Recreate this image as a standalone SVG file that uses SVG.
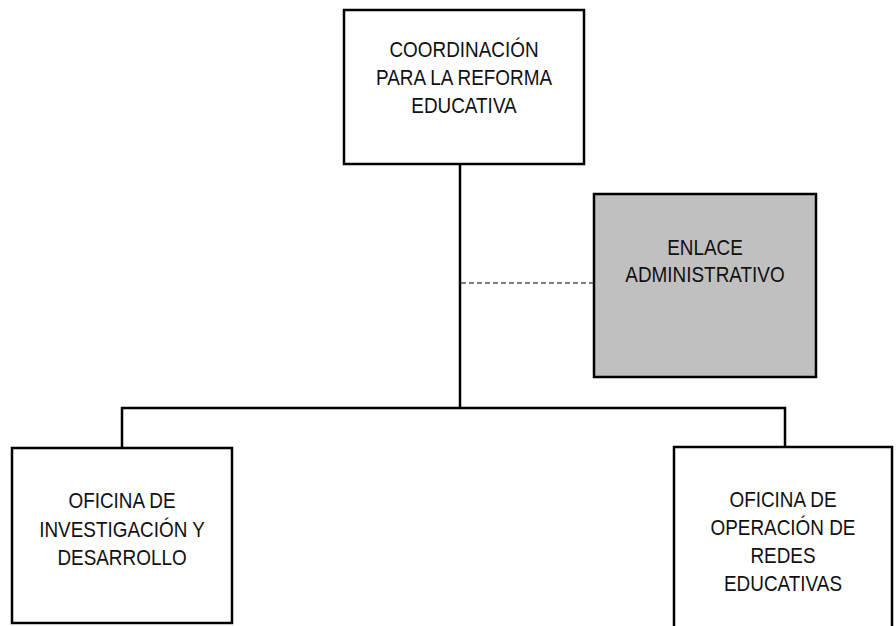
<svg xmlns="http://www.w3.org/2000/svg" width="896" height="626" viewBox="0 0 896 626">
<style>
.box{fill:#ffffff;stroke:#000000;stroke-width:2.5}
.gray{fill:#c0c0c0;stroke:#000000;stroke-width:2.5}
.ln{fill:none;stroke:#000000;stroke-width:2.5}
.dash{fill:none;stroke:#000000;stroke-width:1.2;stroke-dasharray:5 3}
text{font-family:"Liberation Sans",Arial,sans-serif;font-size:22px;fill:#111111;text-anchor:middle}
</style>
<rect width="896" height="626" fill="#ffffff"/>
<g id="connectors">
<line class="ln" x1="460" y1="164" x2="460" y2="408"/>
<polyline class="ln" points="122,448 122,408 785,408 785,447"/>
<line class="dash" x1="461" y1="283" x2="594" y2="283"/>
</g>
<g id="coordinacion">
<rect class="box" x="344" y="10" width="240" height="154"/>
<text transform="translate(464 57) scale(0.86 1)">COORDINACIÓN</text>
<text transform="translate(464 85) scale(0.86 1)">PARA LA REFORMA</text>
<text transform="translate(464 113) scale(0.86 1)">EDUCATIVA</text>
</g>
<g id="enlace">
<rect class="gray" x="594" y="194" width="222" height="183"/>
<text transform="translate(705 255) scale(0.86 1)">ENLACE</text>
<text transform="translate(705 282) scale(0.86 1)">ADMINISTRATIVO</text>
</g>
<g id="investigacion">
<rect class="box" x="12" y="448" width="220" height="175"/>
<text transform="translate(122 508) scale(0.86 1)">OFICINA DE</text>
<text transform="translate(122 537) scale(0.86 1)">INVESTIGACIÓN Y</text>
<text transform="translate(122 565) scale(0.86 1)">DESARROLLO</text>
</g>
<g id="operacion">
<rect class="box" x="674" y="447" width="218" height="200"/>
<text transform="translate(783 507) scale(0.86 1)">OFICINA DE</text>
<text transform="translate(783 535) scale(0.86 1)">OPERACIÓN DE</text>
<text transform="translate(783 563) scale(0.86 1)">REDES</text>
<text transform="translate(783 591) scale(0.86 1)">EDUCATIVAS</text>
</g>
</svg>
